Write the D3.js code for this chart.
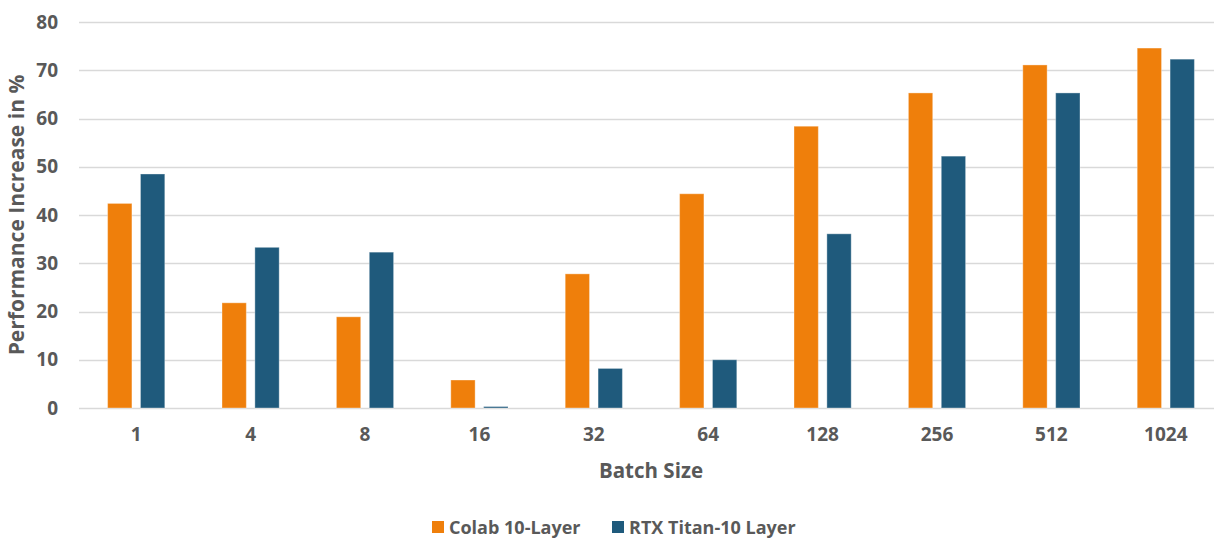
<!DOCTYPE html>
<html>
<head>
<meta charset="utf-8">
<script src="https://cdn.jsdelivr.net/npm/d3@7"></script>
<style>
  html, body { margin: 0; padding: 0; background: #fff; }
  svg { display: block; }
  text { font-family: "Open Sans", "Noto Sans", sans-serif; font-weight: 700; fill: #595959; }
</style>
</head>
<body>
<svg id="chart" width="1214" height="538"></svg>
<script>
// Batch sizes along the x axis
const batchSizes = ["1", "4", "8", "16", "32", "64", "128", "256", "512", "1024"];
// Performance increase (%) per batch size
const colabValues = [42.4, 21.8, 18.9, 5.8, 27.8, 44.4, 58.4, 65.3, 71.1, 74.6];
const titanValues = [48.5, 33.3, 32.3, 0.3, 8.2, 10.0, 36.1, 52.2, 65.3, 72.3];
const seriesNames = ["Colab 10-Layer", "RTX Titan-10 Layer"];
const seriesColors = ["#EF7F0B", "#1F5A7C"];
const yTicks = [0, 10, 20, 30, 40, 50, 60, 70, 80];

const svg = d3.select("#chart");
const margin = { left: 79, right: -9, top: 22, bottom: 130 };
const W = 1214, H = 538;
const plotBottom = 408;

const x = d3.scaleBand()
  .domain(batchSizes)
  .range([margin.left, W - margin.right]);

const x1 = d3.scaleBand()
  .domain([0, 1])
  .range([0, x.bandwidth() * 0.5])
  .paddingInner(0.26);

const y = d3.scaleLinear()
  .domain([0, 80])
  .range([plotBottom, margin.top]);

// horizontal gridlines
svg.append("g")
  .selectAll("line")
  .data(yTicks)
  .join("line")
  .attr("x1", margin.left)
  .attr("x2", W)
  .attr("y1", d => Math.round(y(d)) + 0.5)
  .attr("y2", d => Math.round(y(d)) + 0.5)
  .attr("stroke", "#D9D9D9")
  .attr("stroke-width", 1.3);

// y axis tick labels
const yAxis = d3.axisLeft(y).tickValues(yTicks).tickSize(0).tickPadding(0);
const gy = svg.append("g")
  .attr("transform", `translate(58,0)`)
  .call(yAxis);
gy.select(".domain").remove();
gy.selectAll("text")
  .style("font-size", "19px")
  .style("font-family", "'Open Sans', sans-serif")
  .style("font-weight", "700")
  .attr("fill", "#595959");

// x axis tick labels
const xAxis = d3.axisBottom(x).tickSize(0).tickPadding(0);
const gx = svg.append("g")
  .attr("transform", `translate(0,${plotBottom + 19})`)
  .call(xAxis);
gx.select(".domain").remove();
gx.selectAll("text")
  .style("font-size", "19px")
  .style("font-family", "'Open Sans', sans-serif")
  .style("font-weight", "700")
  .attr("fill", "#595959");

// bars
const rows = batchSizes.map((b, i) => ({ b, vals: [colabValues[i], titanValues[i]] }));
const groups = svg.append("g")
  .selectAll("g")
  .data(rows)
  .join("g")
  .attr("transform", d => `translate(${x(d.b) + x.bandwidth() * 0.25},0)`);

groups.selectAll("rect")
  .data(d => d.vals.map((v, k) => ({ v, k })))
  .join("rect")
  .attr("x", d => x1(d.k))
  .attr("width", x1.bandwidth())
  .attr("y", d => y(d.v))
  .attr("height", d => plotBottom - y(d.v))
  .attr("fill", d => seriesColors[d.k])
  .attr("stroke", "#ffffff")
  .attr("stroke-opacity", 0.35)
  .attr("stroke-width", 1);

// axis titles
svg.append("text")
  .attr("x", 651)
  .attr("y", 478)
  .attr("text-anchor", "middle")
  .style("font-size", "20.5px")
  .text("Batch Size");

svg.append("text")
  .attr("transform", "translate(24,215) rotate(-90)")
  .attr("text-anchor", "middle")
  .style("font-size", "21px")
  .text("Performance Increase in %");

// legend
const legendX = [432, 612];
const legend = svg.append("g")
  .selectAll("g")
  .data(seriesNames)
  .join("g")
  .attr("transform", (d, i) => `translate(${legendX[i]},527)`);
legend.append("rect")
  .attr("x", 0).attr("y", -6)
  .attr("width", 12).attr("height", 12)
  .attr("fill", (d, i) => seriesColors[i]);
legend.append("text")
  .attr("x", 17)
  .attr("y", 6.5)
  .style("font-size", "18px")
  .text(d => d);
</script>
</body>
</html>
